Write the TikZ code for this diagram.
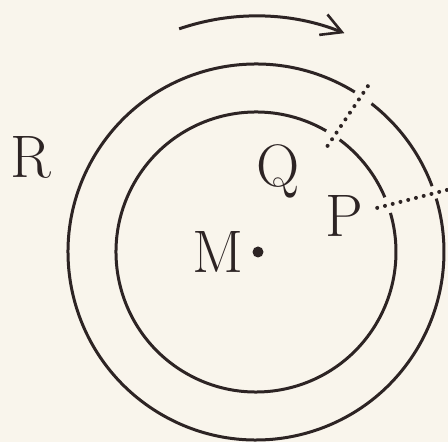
\documentclass[tikz,border=0pt]{standalone}
\usetikzlibrary{arrows.meta}

\definecolor{paper}{RGB}{249,245,236}
\definecolor{ink}{RGB}{45,36,36}

\begin{document}
\begin{tikzpicture}[
  x=1pt,y=1pt,
  ring/.style={draw=ink,line width=3pt},
  cut/.style={draw=ink,line width=4pt,line cap=round,dash pattern=on 0pt off 8pt},
  letter/.style={text=ink,font=\fontsize{60}{64}\selectfont,anchor=base,inner sep=0pt}
]
  \fill[paper] (0,0) rectangle (448,442);
  \useasboundingbox (0,0) rectangle (448,442);

  \coordinate (O) at (256,190);
  \coordinate (M) at (258,190);

  % rings, broken where the cuts pass
  \begin{scope}[shift={(O)}]
    \draw[ring] (59.9:140) arc[start angle=59.9,end angle=376.2,radius=140];
    \draw[ring] (23:140) arc[start angle=23,end angle=53.3,radius=140];
    \draw[ring] (58.3:188) arc[start angle=58.3,end angle=376.5,radius=188];
    \draw[ring] (20.5:188) arc[start angle=20.5,end angle=52.1,radius=188];

    \coordinate (q1) at (56:128);
    \coordinate (q2) at (56:200);
    \coordinate (p1) at (20:129);
    \coordinate (p2) at (18:201);

    % sense of rotation
    \draw[ring,-{Straight Barb[length=20pt,width=22pt,line width=2.6pt]}]
      (109:236) arc[start angle=109,end angle=68,radius=236];
  \end{scope}

  \draw[cut] (q1) -- (q2);
  \draw[cut] (p1) -- (p2);

  \fill[ink] (M) circle[radius=5.5];

  \node[letter] (R) at (31,264) {R};
  \node[letter] (Q) at (278,255) {Q};
  \node[letter] (P) at (344,205) {P};
  \node[letter] (Mlabel) at (218,169) {M};
\end{tikzpicture}
\end{document}
